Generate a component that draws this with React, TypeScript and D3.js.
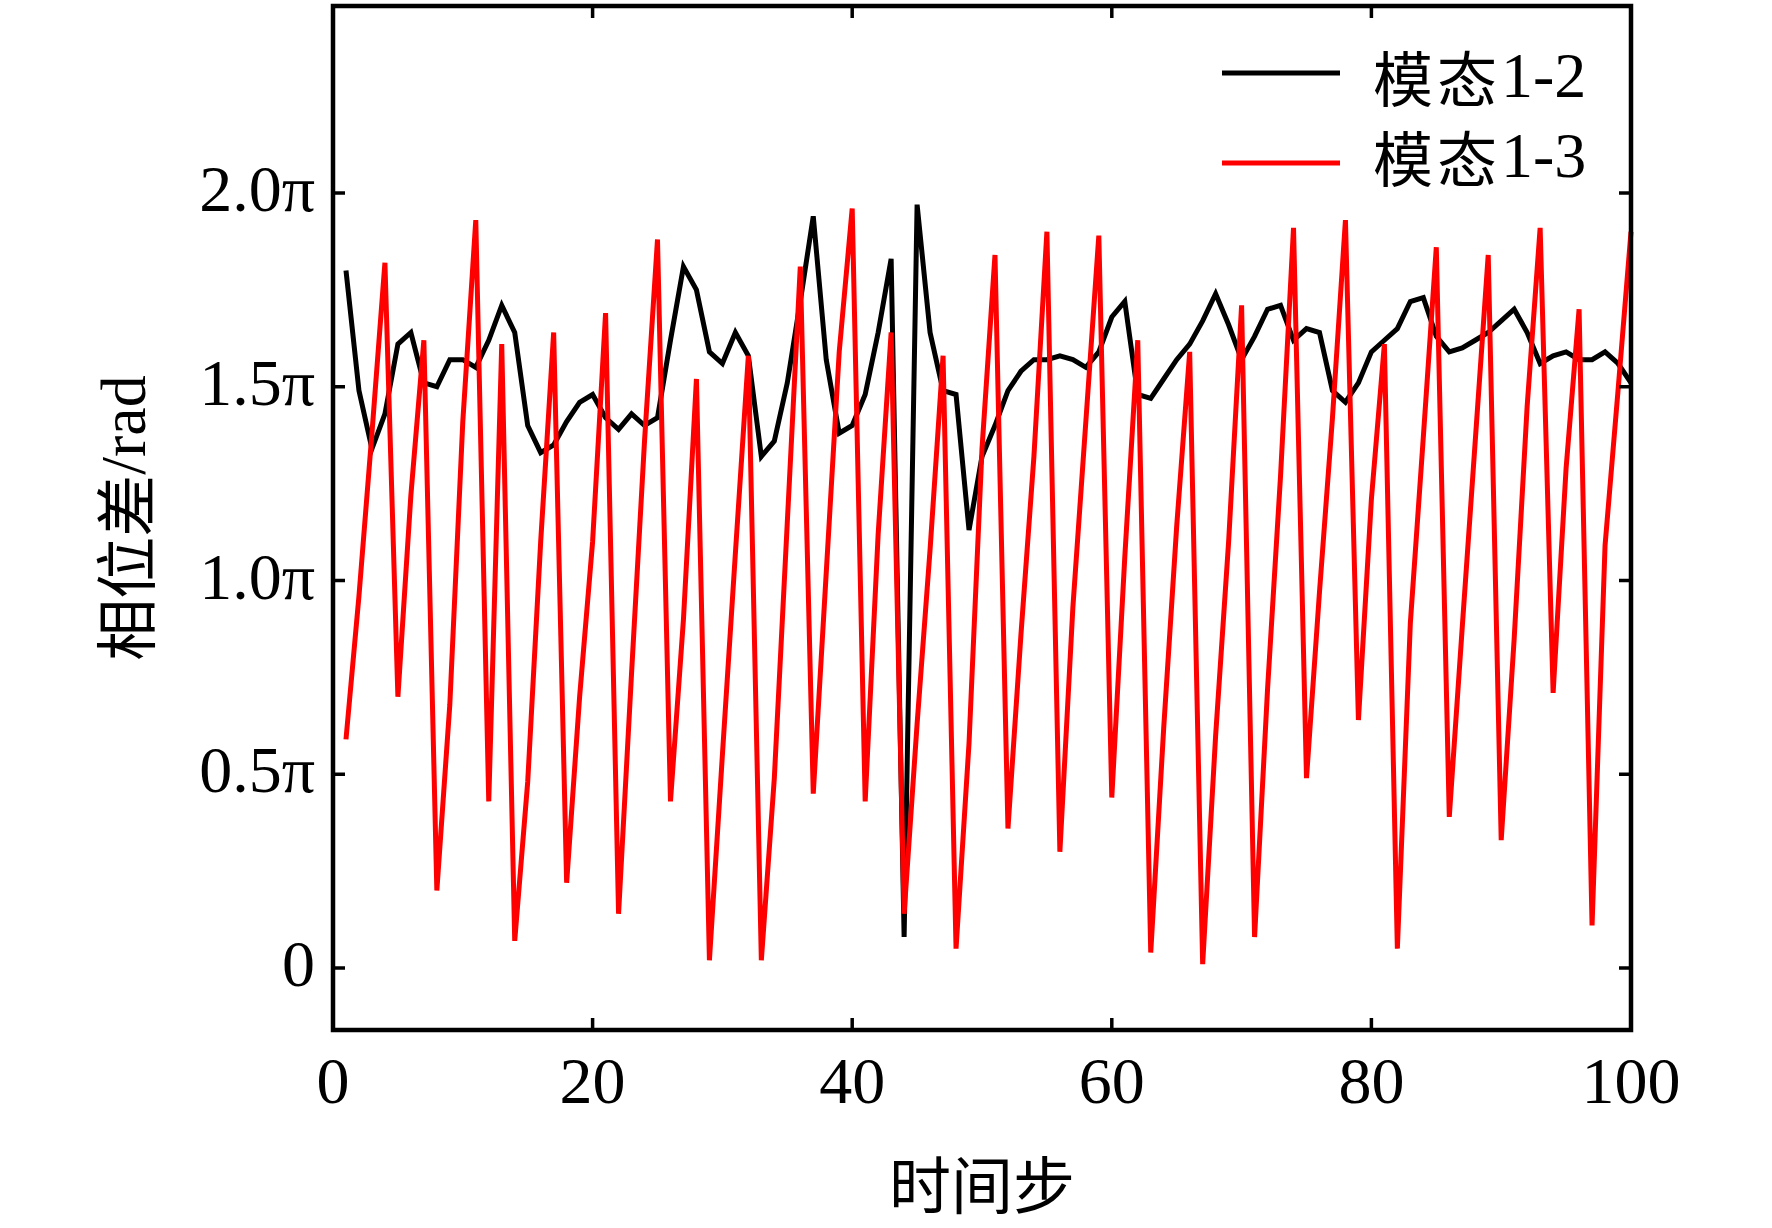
import React from "react";
import * as d3 from "d3";

const steps: number[] = Array.from({ length: 100 }, (_, i) => i + 1);

const mode12: number[] = [
  1.80, 1.49, 1.34, 1.43, 1.61, 1.64, 1.51, 1.50, 1.57, 1.57,
  1.55, 1.62, 1.71, 1.64, 1.40, 1.33, 1.35, 1.41, 1.46, 1.48,
  1.42, 1.39, 1.43, 1.40, 1.42, 1.62, 1.81, 1.75, 1.59, 1.56,
  1.64, 1.58, 1.32, 1.36, 1.51, 1.72, 1.94, 1.57, 1.38, 1.40,
  1.48, 1.64, 1.83, 0.08, 1.97, 1.64, 1.49, 1.48, 1.13, 1.32,
  1.40, 1.49, 1.54, 1.57, 1.57, 1.58, 1.57, 1.55, 1.59, 1.68,
  1.72, 1.48, 1.47, 1.52, 1.57, 1.61, 1.67, 1.74, 1.66, 1.57,
  1.63, 1.70, 1.71, 1.62, 1.65, 1.64, 1.49, 1.46, 1.51, 1.59,
  1.62, 1.65, 1.72, 1.73, 1.63, 1.59, 1.60, 1.62, 1.64, 1.67,
  1.70, 1.64, 1.56, 1.58, 1.59, 1.57, 1.57, 1.59, 1.56, 1.51,
];

const mode13: number[] = [
  0.59, 0.96, 1.38, 1.82, 0.70, 1.22, 1.62, 0.20, 0.68, 1.41,
  1.93, 0.43, 1.61, 0.07, 0.48, 1.10, 1.64, 0.22, 0.70, 1.10,
  1.69, 0.14, 0.76, 1.36, 1.88, 0.43, 0.90, 1.52, 0.02, 0.55,
  1.07, 1.58, 0.02, 0.49, 1.15, 1.81, 0.45, 1.02, 1.59, 1.96,
  0.43, 1.12, 1.64, 0.14, 0.63, 1.08, 1.58, 0.05, 0.58, 1.34,
  1.84, 0.36, 0.86, 1.32, 1.90, 0.30, 0.93, 1.41, 1.89, 0.44,
  1.06, 1.62, 0.04, 0.62, 1.14, 1.59, 0.01, 0.60, 1.10, 1.71,
  0.08, 0.72, 1.27, 1.91, 0.49, 0.97, 1.42, 1.93, 0.64, 1.21,
  1.61, 0.05, 0.89, 1.37, 1.86, 0.39, 0.88, 1.36, 1.84, 0.33,
  0.85, 1.45, 1.91, 0.71, 1.29, 1.70, 0.11, 1.09, 1.49, 1.90,
];

const xTicks: number[] = [0, 20, 40, 60, 80, 100];
const yTicks: number[] = [0, 0.5, 1.0, 1.5, 2.0];
const yTickLabels: string[] = ["0", "0.5π", "1.0π", "1.5π", "2.0π"];
const seriesNamesCJK: string[] = ["模态", "模态"];
const seriesNamesLatin: string[] = ["1-2", "1-3"];
const seriesColors: string[] = ["#000000", "#ff0000"];
const xTitle = "时间步";
const yTitleCJK = "相位差";
const yTitleLatin = "/rad";

const W = 1772;
const H = 1228;
const L = 333, R = 1631, T = 6, B = 1030;
const SERIF = "'Liberation Serif', 'Times New Roman', serif";
const CJK = "'Noto Sans CJK SC', 'Noto Sans CJK TC', sans-serif";

export default function App() {
  const x = d3.scaleLinear().domain([0, 100]).range([L, R]);
  const y = d3.scaleLinear().domain([-0.16, 2.4826]).range([B, T]);
  const line = d3
    .line<number>()
    .x((_, i) => x(steps[i]))
    .y((d) => y(d));

  const series = [mode12, mode13];
  const tickLen = 12;

  return (
    <svg
      width={W}
      height={H}
      viewBox={`0 0 ${W} ${H}`}
      style={{ position: "absolute", left: 0, top: 0, background: "#fff" }}
    >
      <rect x={0} y={0} width={W} height={H} fill="#fff" />
      {series.map((s, k) => (
        <path
          key={k}
          d={line(s) || ""}
          fill="none"
          stroke={seriesColors[k]}
          strokeWidth={5}
          strokeLinejoin="miter"
          strokeMiterlimit={4}
        />
      ))}
      <rect x={L} y={T} width={R - L} height={B - T} fill="none" stroke="#000" strokeWidth={4.5} />
      {xTicks.map((t) => (
        <g key={"xt" + t}>
          {t > 0 && t < 100 && (
            <>
              <line x1={x(t)} x2={x(t)} y1={B} y2={B - tickLen} stroke="#000" strokeWidth={3.5} />
              <line x1={x(t)} x2={x(t)} y1={T} y2={T + tickLen} stroke="#000" strokeWidth={3.5} />
            </>
          )}
          <text x={x(t)} y={1103} textAnchor="middle" style={{ fontFamily: SERIF }} fontSize={66} fill="#000">
            {t}
          </text>
        </g>
      ))}
      {yTicks.map((t, i) => (
        <g key={"yt" + t}>
          <line x1={L} x2={L + tickLen} y1={y(t)} y2={y(t)} stroke="#000" strokeWidth={3.5} />
          <line x1={R} x2={R - tickLen} y1={y(t)} y2={y(t)} stroke="#000" strokeWidth={3.5} />
          <text x={315} y={y(t) + 18} textAnchor="end" style={{ fontFamily: SERIF }} fontSize={66} fill="#000">
            {yTickLabels[i]}
          </text>
        </g>
      ))}
      <text
        x={(L + R) / 2}
        y={1182}
        textAnchor="middle"
        dominantBaseline="central"
        style={{ fontFamily: CJK }}
        fontSize={62}
        fill="#000"
      >
        {xTitle}
      </text>
      <text
        transform={`translate(123, ${(T + B) / 2}) rotate(-90)`}
        textAnchor="middle"
        dominantBaseline="central"
        fontSize={62}
        fill="#000"
      >
        <tspan style={{ fontFamily: CJK }}>{yTitleCJK}</tspan>
        <tspan style={{ fontFamily: SERIF }} fontSize={64}>{yTitleLatin}</tspan>
      </text>
      {seriesColors.map((c, k) => {
        const ly = [73, 163][k];
        const ty = [75, 155][k];
        return (
          <g key={"lg" + k}>
            <line x1={1222} x2={1340} y1={ly} y2={ly} stroke={c} strokeWidth={5} />
            <text x={1373} y={ty} dominantBaseline="central" fill="#000">
              <tspan style={{ fontFamily: CJK }} fontSize={60} letterSpacing={4}>{seriesNamesCJK[k]}</tspan>
              <tspan style={{ fontFamily: SERIF }} fontSize={64}>{seriesNamesLatin[k]}</tspan>
            </text>
          </g>
        );
      })}
    </svg>
  );
}
